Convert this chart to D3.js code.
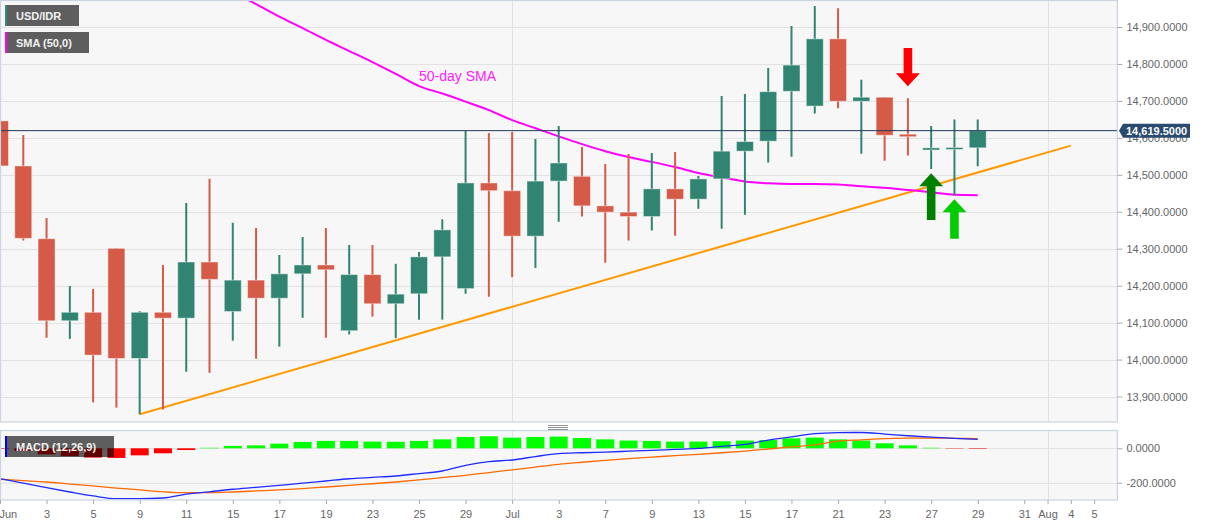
<!DOCTYPE html>
<html><head><meta charset="utf-8">
<script src="https://cdn.jsdelivr.net/npm/d3@7"></script>
<style>body{margin:0;background:#fff;} svg{display:block;font-family:"Liberation Sans",Arial,sans-serif;}</style>
</head><body><svg id="c" width="1207" height="526"></svg>
<script>
// ---- data ----
const dates = ["2020-06-01","2020-06-02","2020-06-03","2020-06-04","2020-06-05","2020-06-08","2020-06-09","2020-06-10","2020-06-11","2020-06-12",
"2020-06-15","2020-06-16","2020-06-17","2020-06-18","2020-06-19","2020-06-22","2020-06-23","2020-06-24","2020-06-25","2020-06-26",
"2020-06-29","2020-06-30","2020-07-01","2020-07-02","2020-07-03","2020-07-06","2020-07-07","2020-07-08","2020-07-09","2020-07-10",
"2020-07-13","2020-07-14","2020-07-15","2020-07-16","2020-07-17","2020-07-20","2020-07-21","2020-07-22","2020-07-23","2020-07-24",
"2020-07-27","2020-07-28","2020-07-29","2020-07-30","2020-07-31","2020-08-03","2020-08-04","2020-08-05"];
const open  = [14646,14524,14327,14105,14128,14301,14003,14128,14112,14264,14130,14215,14166,14232,14256,14078,14230,14151,14178,14278,14192,14478,14457,14334,14483,14496,14416,14399,14387,14462,14434,14489,14564,14591,14726,14686,14868,14699,14710,14610,14567,14569,14573];
const high  = [14652,14608,14383,14199,14191,14301,14131,14256,14424,14489,14370,14356,14283,14332,14356,14310,14310,14259,14291,14380,14619,14613,14616,14597,14632,14575,14529,14556,14559,14562,14497,14713,14719,14789,14903,14957,14951,14757,14710,14707,14632,14650,14650];
const low   = [14437,14322,14059,14056,13884,13870,13852,13865,13967,13964,14051,14002,14035,14113,14059,14068,14116,14058,14108,14108,14178,14170,14223,14248,14373,14387,14262,14322,14349,14335,14408,14354,14392,14533,14549,14666,14680,14557,14538,14552,14516,14445,14523];
const close = [14524,14328,14105,14128,14012,14003,14128,14112,14264,14217,14215,14166,14232,14256,14243,14230,14151,14177,14278,14351,14478,14457,14334,14483,14532,14416,14399,14387,14462,14434,14489,14564,14590,14725,14797,14868,14699,14710,14607,14603,14573,14574,14619.5];
const sma50 = [15400,15355,15310,15265,15220,15175,15135,15095,15060,15027,14995,14962,14928,14897,14865,14835,14805,14773,14740,14720,14698,14675,14648,14626,14604,14583,14564,14548,14535,14521,14505,14493,14482,14477,14475,14475,14474,14469,14465,14459,14453,14446,14445];
const macdLine = [-177,-202,-229,-254,-277,-293,-293,-289,-267,-253,-238,-227,-215,-203,-190,-177,-169,-161,-147,-132,-99,-77,-68,-48,-31,-26,-22,-17,-12,-6,-1,11,23,48,66,85,91,92,83,73,65,58,52];
const signalLine = [-180,-188,-196,-208,-219,-231,-242,-253,-258,-258,-254,-248,-242,-234,-225,-216,-206,-196,-184,-170,-157,-141,-126,-109,-93,-81,-70,-60,-51,-43,-35,-26,-16,-4,8,20,42,49,56,59,60,58,56];
const histogram = [-3,-15,-35,-45,-54,-56,-41,-29,-10,3,14,17,27,37,43,43,39,38,43,52,66,70,62,66,68,60,52,45,43,39,39,41,45,48,58,62,52,45,29,17,3,-2,-3];
const priceTicks = [13900,14000,14100,14200,14300,14400,14500,14600,14700,14800,14900];
const macdTicks = [0,-200];
const xTickIdx = [0,2,4,6,8,10,12,14,16,18,20,22,24,26,28,30,32,34,36,38,40,42,44,45,46,47];
const xTickLabels = ["Jun","3","5","9","11","15","17","19","23","25","29","Jul","3","7","9","13","15","17","21","23","27","29","31","Aug","4","5"];
const monthStarts = [22,45];
const trendLine = [{i:6,v:13852},{i:46,v:14579}];
const arrows = [{i:39,from:14843,to:14740,color:"#ff0000"},{i:40,from:14378,to:14504,color:"#008000"},{i:41,from:14327,to:14434,color:"#00cc00"}];
const lastPrice = 14619.5;

// ---- layout ----
const svg = d3.select("#c");
const plotL = 0, plotR = 1117.4;
const mainTop = 1, mainBot = 422;
const macdTop = 431, macdBot = 500;
const x = d3.scaleLinear().domain([0,48]).range([plotL, plotR]);
const y = d3.scaleLinear().domain([13831,14970.4]).range([mainBot, mainTop]);
const ym = d3.scaleLinear().domain([-300.6,100.6]).range([macdBot, macdTop]);
const fmt = v => d3.format(",.4f")(v).replace("\u2212","-");
const GRID = "#e2e2e2", BORDER = "#ccd3e2", AXIS = "#666";
const UP = "#318471", DOWN = "#d55a47";

svg.append("rect").attr("width",1207).attr("height",526).attr("fill","#fff");
const defs = svg.append("defs");
defs.append("clipPath").attr("id","mainClip").append("rect").attr("x",plotL).attr("y",mainTop).attr("width",plotR-plotL).attr("height",mainBot-mainTop);
defs.append("clipPath").attr("id","macdClip").append("rect").attr("x",plotL).attr("y",macdTop).attr("width",plotR-plotL).attr("height",macdBot-macdTop);

// panels
svg.append("rect").attr("x",plotL).attr("y",mainTop).attr("width",plotR-plotL).attr("height",mainBot-mainTop).attr("fill","#f7f7f7");
svg.append("rect").attr("x",plotL).attr("y",macdTop).attr("width",plotR-plotL).attr("height",macdBot-macdTop).attr("fill","#f7f7f7");

// grids
const gMainGrid = svg.append("g");
gMainGrid.selectAll("line.h").data(priceTicks).join("line").attr("x1",plotL).attr("x2",plotR)
  .attr("y1",d=>Math.round(y(d))+0.5).attr("y2",d=>Math.round(y(d))+0.5).attr("stroke",GRID);
gMainGrid.selectAll("line.v").data(monthStarts).join("line").attr("class","v").attr("y1",mainTop).attr("y2",mainBot)
  .attr("x1",d=>Math.round(x(d))+0.5).attr("x2",d=>Math.round(x(d))+0.5).attr("stroke",GRID);
const gMacdGrid = svg.append("g");
gMacdGrid.selectAll("line.h").data(macdTicks).join("line").attr("x1",plotL).attr("x2",plotR)
  .attr("y1",d=>Math.round(ym(d))+0.5).attr("y2",d=>Math.round(ym(d))+0.5).attr("stroke",GRID);
gMacdGrid.selectAll("line.v").data(monthStarts).join("line").attr("class","v").attr("y1",macdTop).attr("y2",macdBot)
  .attr("x1",d=>Math.round(x(d))+0.5).attr("x2",d=>Math.round(x(d))+0.5).attr("stroke",GRID);

// main content
const gMain = svg.append("g").attr("clip-path","url(#mainClip)");
const idx = d3.range(close.length);

// trend line
gMain.append("path").datum(trendLine)
  .attr("d", d3.line().x(d=>x(d.i)).y(d=>y(d.v)))
  .attr("fill","none").attr("stroke","#ff9900").attr("stroke-width",2);

// SMA
gMain.append("path").datum(idx)
  .attr("d", d3.line().x(i=>x(i)).y(i=>y(sma50[i])).curve(d3.curveMonotoneX))
  .attr("fill","none").attr("stroke","#ff00ff").attr("stroke-width",2);

// candles
const cg = gMain.selectAll("g.candle").data(idx).join("g");
cg.append("line").attr("x1",i=>x(i)).attr("x2",i=>x(i)).attr("y1",i=>y(high[i])).attr("y2",i=>y(low[i]))
  .attr("stroke",i=>close[i]>=open[i]?UP:DOWN).attr("stroke-width",2);
cg.append("rect")
  .attr("x",i=>x(i)-8.5).attr("width",17)
  .attr("y",i=>y(Math.max(open[i],close[i])))
  .attr("height",i=>Math.max(2,Math.abs(y(open[i])-y(close[i]))))
  .attr("fill",i=>close[i]>=open[i]?UP:DOWN)
  .attr("stroke","rgba(255,255,255,0.45)").attr("stroke-width",1);

// last price line
svg.append("line").attr("x1",plotL).attr("x2",plotR).attr("y1",y(lastPrice)).attr("y2",y(lastPrice))
  .attr("stroke","#22395a").attr("stroke-width",1);

// arrows
const gArr = svg.append("g");
arrows.forEach(a=>{
  const xc = x(a.i), yt = y(a.from), yp = y(a.to);
  const s = yp > yt ? 1 : -1, hb = yp - s*13, sw = 4.3, hw = 12;
  const pts = [[xc-sw,yt],[xc+sw,yt],[xc+sw,hb],[xc+hw,hb],[xc,yp],[xc-hw,hb],[xc-sw,hb]];
  gArr.append("path").attr("d","M"+pts.map(p=>p.join(",")).join("L")+"Z").attr("fill",a.color);
});

// SMA annotation
svg.append("text").attr("x",x(18)).attr("y",y(14754)).attr("fill","#ff22ff").attr("font-size",14).text("50-day SMA");

// MACD content
const gM = svg.append("g").attr("clip-path","url(#macdClip)");
gM.selectAll("rect.h").data(idx).join("rect")
  .attr("x",i=>x(i)-9).attr("width",18)
  .attr("y",i=>ym(Math.max(0,histogram[i])))
  .attr("height",i=>Math.abs(ym(histogram[i])-ym(0)))
  .attr("fill",i=>histogram[i]>=0?"#00ff00":"#ff0000");
gM.append("path").datum(idx).attr("d",d3.line().x(i=>x(i)).y(i=>ym(signalLine[i])).curve(d3.curveMonotoneX))
  .attr("fill","none").attr("stroke","#ff6a00").attr("stroke-width",1.3);
gM.append("path").datum(idx).attr("d",d3.line().x(i=>x(i)).y(i=>ym(macdLine[i])).curve(d3.curveMonotoneX))
  .attr("fill","none").attr("stroke","#1e2cff").attr("stroke-width",1.3);

// borders
[[mainTop,mainBot],[macdTop,macdBot]].forEach(([t,b])=>{
  svg.append("rect").attr("x",plotL+0.5).attr("y",t-0.5).attr("width",plotR-plotL-0.5).attr("height",b-t+0.5)
    .attr("fill","none").attr("stroke",BORDER).attr("stroke-width",1.2);
});

// right axes
function styleAxis(g){
  g.select(".domain").remove();
  g.selectAll(".tick line").attr("stroke","#aaa");
  g.selectAll(".tick text").attr("fill",AXIS).attr("font-size",11).attr("font-family","Liberation Sans, Arial, sans-serif");
}
const ay = svg.append("g").attr("transform",`translate(${plotR},0)`)
  .call(d3.axisRight(y).tickValues(priceTicks).tickFormat(fmt).tickSize(5).tickPadding(4));
styleAxis(ay);
const aym = svg.append("g").attr("transform",`translate(${plotR},0)`)
  .call(d3.axisRight(ym).tickValues(macdTicks).tickFormat(fmt).tickSize(5).tickPadding(4));
styleAxis(aym);

// x axis
const ax = svg.append("g").attr("transform",`translate(0,${macdBot})`)
  .call(d3.axisBottom(x).tickValues(xTickIdx).tickFormat((d,k)=>xTickLabels[k]).tickSize(4).tickPadding(6));
styleAxis(ax);
ax.selectAll(".tick text").filter(d=>d===0).attr("text-anchor","start").attr("dx",-1);

// last price label
const ly = y(lastPrice);
svg.append("path").attr("d",`M1119,${ly} L1123,${ly-7} L1190,${ly-7} L1190,${ly+7} L1123,${ly+7} Z`).attr("fill","#2a4a70");
svg.append("text").attr("x",1126).attr("y",ly+4).attr("fill","#fff").attr("font-size",11).attr("font-weight","bold").text(d3.format(",.4f")(lastPrice));

// separator handle
svg.selectAll("line.hd").data([425.5,427.5,429.5]).join("line").attr("x1",548).attr("x2",568).attr("y1",d=>d).attr("y2",d=>d).attr("stroke","#777").attr("stroke-width",0.8);

// legends
function legend(x0,y0,w,label,color){
  svg.append("rect").attr("x",x0).attr("y",y0).attr("width",w).attr("height",21).attr("fill","rgba(0,0,0,0.62)");
  svg.append("rect").attr("x",x0).attr("y",y0).attr("width",2).attr("height",21).attr("fill",color);
  svg.append("text").attr("x",x0+11).attr("y",y0+14.5).attr("fill","#f2f2f2").attr("font-size",11).attr("font-weight","bold").text(label);
}
legend(5,5,74,"USD/IDR","#2e8b74");
legend(5,32,84,"SMA (50,0)","#ff00ff");
legend(5,436,109,"MACD (12,26,9)","#0000ff");
</script></body></html>
